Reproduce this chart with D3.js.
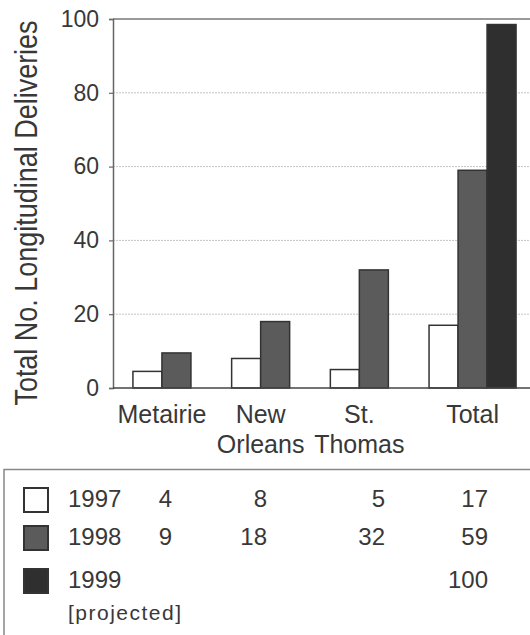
<!DOCTYPE html>
<html><head><meta charset="utf-8">
<script src="https://cdn.jsdelivr.net/npm/d3@7"></script>
<style>body{margin:0;background:#fff}svg{display:block}</style>
</head><body>
<svg id="c" width="530" height="635"></svg>
<script>
const categories = ["Metairie", "New Orleans", "St. Thomas", "Total"];
const categoryLines = [["Metairie"], ["New", "Orleans"], ["St.", "Thomas"], ["Total"]];
const series = ["1997", "1998", "1999"];
const seriesNotes = ["", "", "[projected]"];
const values1997 = [4.5, 8, 5, 17];
const values1998 = [9.5, 18, 32, 59];
const values1999 = [null, null, null, 98.5];
const table1997 = ["4", "8", "5", "17"];
const table1998 = ["9", "18", "32", "59"];
const table1999 = ["", "", "", "100"];
const yTicks = [0, 20, 40, 60, 80, 100];
const yTitle = "Total No. Longitudinal Deliveries";

const colors = ["#ffffff", "#5b5b5b", "#2f2f2f"];
const allValues = [values1997, values1998, values1999];
const allTable = [table1997, table1998, table1999];
const txt = "#383838";
const font = "'Liberation Sans', Arial, sans-serif";

const svg = d3.select("#c");
const pLeft = 113, pRight = 530, pTop = 19, pBottom = 388;

const y = d3.scaleLinear().domain([0, 100]).range([pBottom, pTop]);
const x0 = d3.scaleBand().domain(categories).range([128, 521]).paddingInner(0.1185).paddingOuter(0.05);
const x1 = d3.scaleBand().domain(d3.range(series.length)).range([0, x0.bandwidth()]);

// gridlines
svg.append("g").selectAll("line").data(yTicks.filter(t => t > 0 && t < 100)).join("line")
  .attr("x1", pLeft).attr("x2", pRight).attr("y1", d => y(d)).attr("y2", d => y(d))
  .attr("stroke", "#c4c4c4").attr("stroke-width", 1).attr("stroke-dasharray", "2,1");
// top frame line
svg.append("line").attr("x1", pLeft).attr("x2", pRight).attr("y1", y(100)).attr("y2", y(100))
  .attr("stroke", "#777").attr("stroke-width", 1.5);

// y axis
const yAxis = d3.axisLeft(y).tickValues(yTicks).tickSize(4).tickPadding(10);
const ga = svg.append("g").attr("transform", `translate(${pLeft},0)`).call(yAxis);
ga.select(".domain").attr("stroke", "#666").attr("stroke-width", 1.5);
ga.selectAll(".tick line").attr("stroke", "#666").attr("stroke-width", 1.2);
ga.selectAll(".tick text").attr("fill", txt).style("font-family", font).style("font-size", "23px");

// bars
categories.forEach((c, ci) => {
  const present = series.map((s, si) => ({si, v: allValues[si][ci]})).filter(d => d.v != null);
  const g = svg.append("g");
  g.selectAll("rect").data(present).join("rect")
    .attr("x", (d, k) => x0(c) + x1(k))
    .attr("y", d => y(d.v))
    .attr("width", x1.bandwidth())
    .attr("height", d => y(0) - y(d.v))
    .attr("fill", d => colors[d.si])
    .attr("stroke", "#333").attr("stroke-width", 1.5);
  const cx = x0(c) + x1.bandwidth() * present.length / 2;
  const t = svg.append("text").attr("text-anchor", "middle").attr("fill", txt)
    .style("font-family", font).style("font-size", "25px");
  categoryLines[ci].forEach((ln, li) => {
    t.append("tspan").attr("x", cx).attr("y", 423 + li * 30).text(ln);
  });
});

// x axis line
svg.append("line").attr("x1", pLeft).attr("x2", pRight).attr("y1", y(0)).attr("y2", y(0))
  .attr("stroke", "#444").attr("stroke-width", 1.5);

// y title
svg.append("text").attr("transform", "translate(37,213) rotate(-90) scale(0.87,1)")
  .attr("text-anchor", "middle").attr("fill", txt)
  .style("font-family", font).style("font-size", "31px").text(yTitle);

// legend box
svg.append("path").attr("d", "M4,635 L4,469.5 L530,469.5").attr("fill", "none")
  .attr("stroke", "#888").attr("stroke-width", 1.5);

const rowBase = [507, 545, 588];
const colRight = [172, 267, 385, 488];
series.forEach((s, si) => {
  svg.append("rect").attr("x", 24).attr("y", rowBase[si] - 19).attr("width", 24).attr("height", 24)
    .attr("fill", colors[si]).attr("stroke", "#333").attr("stroke-width", 2);
  svg.append("text").attr("x", 68).attr("y", rowBase[si]).attr("fill", txt)
    .style("font-family", font).style("font-size", "24px").text(s);
  if (seriesNotes[si]) {
    svg.append("text").attr("x", 68).attr("y", rowBase[si] + 32).attr("fill", txt)
      .style("font-family", font).style("font-size", "21px").style("letter-spacing", "1.5px").text(seriesNotes[si]);
  }
  allTable[si].forEach((v, ci) => {
    if (!v) return;
    svg.append("text").attr("x", colRight[ci]).attr("y", rowBase[si]).attr("text-anchor", "end").attr("fill", txt)
      .style("font-family", font).style("font-size", "24px").text(v);
  });
});
</script>
</body></html>
